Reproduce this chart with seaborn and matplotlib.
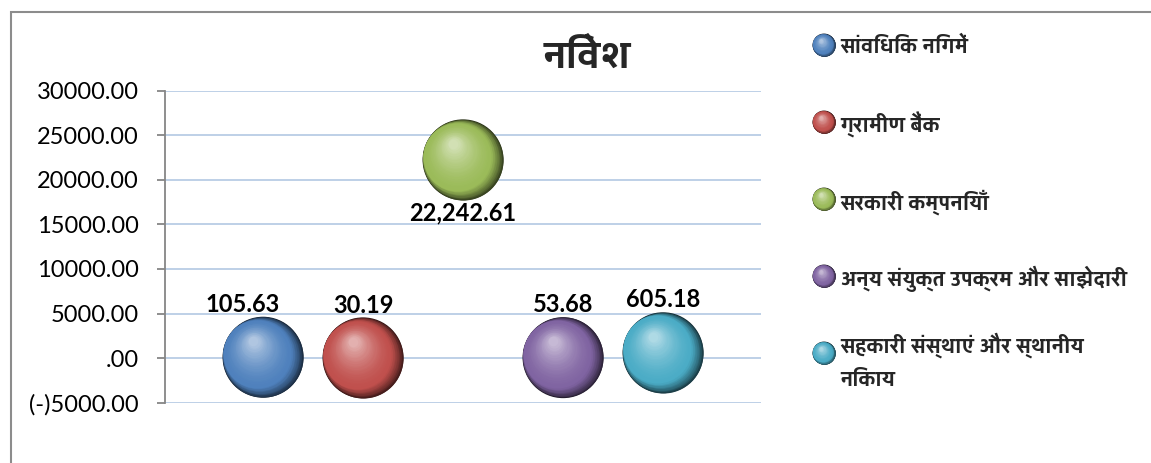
import numpy as np
import matplotlib
matplotlib.use("Agg")
import matplotlib.pyplot as plt
import matplotlib.colors as mcolors
from matplotlib import font_manager
from matplotlib.ft2font import FT2Font
from matplotlib.patches import Rectangle
from matplotlib.transforms import offset_copy
import seaborn as sns

# ── data ─────────────────────────────────────────────────────────────────────
TITLE = "निवेश"
categories = [
    "सांविधिक निगमें",
    "ग्रामीण बैंक",
    "सरकारी कम्पनियाँ",
    "अन्य संयुक्त उपक्रम और साझेदारी",
    "सहकारी संस्थाएं और स्थानीय\nनिकाय",
]
x_pos = [1, 2, 3, 4, 5]
values = [105.63, 30.19, 22242.61, 53.68, 605.18]
colors = ["#4F81BD", "#C0504D", "#9BBB59", "#8064A2", "#4BACC6"]
ytick_values = [-5000, 0, 5000, 10000, 15000, 20000, 25000, 30000]
ytick_labels = ["(-)5000.00", ".00", "5000.00", "10000.00", "15000.00",
                "20000.00", "25000.00", "30000.00"]


def _find_font(ch="\u0928"):
    """first installed family that has a Devanagari glyph, else None"""
    best = None
    for f in font_manager.fontManager.ttflist:
        try:
            cmap = FT2Font(f.fname).get_charmap()
        except Exception:
            continue
        if ord(ch) in cmap:
            if f.weight in ("bold", 700) or best is None:
                best = f.name
    return best


DEV = _find_font()
DEV_FAMILY = [DEV, "DejaVu Sans"] if DEV else ["DejaVu Sans"]

sns.set_theme(style="white")
plt.rcParams["font.family"] = ["Lato", "DejaVu Sans"]


def _mix(c, other, w):
    a = np.array(mcolors.to_rgb(c))
    b = np.array(mcolors.to_rgb(other))
    return tuple(a * (1 - w) + b * w)


def _shade(ax, x, y, base, diam, z):
    """layered discs -> glossy sphere (dark right rim, soft highlight up-left)"""
    dark = _mix(base, "black", 0.75)
    light = _mix(base, "white", 0.55)
    dir_a = np.array([-0.85, 0.5])
    dir_a = dir_a / np.linalg.norm(dir_a)
    hl = np.array([-0.12, 0.2]) * diam
    layers = []
    na = 14
    for i in range(1, na + 1):
        t = i / na
        size = diam * (1 - 0.16 * t)
        off = (diam - size) / 2 * dir_a
        layers.append((size, off, _mix(dark, base, t ** 0.7)))
    start_size, start_off = layers[-1][0], layers[-1][1]
    nb = 22
    for i in range(1, nb + 1):
        t = i / nb
        size = start_size * (1 - t) + diam * 0.12 * t
        off = start_off * (1 - t) + hl * t
        layers.append((size, off, _mix(base, light, t ** 1.6)))
    for k, (size, off, c) in enumerate(layers):
        tr = offset_copy(ax.transData, fig=ax.figure, x=off[0], y=off[1], units="points")
        ax.scatter([x], [y], s=size ** 2, color=c, lw=0, transform=tr,
                   zorder=z + (k + 1) * 0.01, clip_on=False)


fig = plt.figure(figsize=(11.51, 4.63), dpi=100)
ax = fig.add_axes([0.1434, 0.1302, 0.5178, 0.6739])

DIAM = 58.3  # points
dark_cols = [_mix(c, "black", 0.75) for c in colors]
sns.scatterplot(x=x_pos, y=values, hue=categories, palette=dark_cols, s=DIAM ** 2,
                linewidth=0, legend=False, ax=ax, zorder=3, clip_on=False)
for xi, yi, c in zip(x_pos, values, colors):
    _shade(ax, xi, yi, c, DIAM, 3)

# data labels (green one sits below its bubble)
for i, (xi, yi) in enumerate(zip(x_pos, values)):
    below = yi == max(values)
    dx = -15 if i == 0 else 0
    ax.annotate(f"{yi:,.2f}", (xi, yi), xytext=(dx, -38 if below else 38),
                textcoords="offset points", ha="center", va="center",
                fontsize=17, fontweight="bold", color="black", zorder=10,
                annotation_clip=False)

ax.set_xlim(min(x_pos) - 0.98, max(x_pos) + 0.98)
ax.set_ylim(min(ytick_values), max(ytick_values))
ax.set_yticks(ytick_values)
ax.set_yticklabels(ytick_labels)
ax.set_xticks([])
ax.yaxis.grid(True, color="#B9CDE5", lw=1.3)
ax.set_axisbelow(True)
for s in ("top", "right", "bottom"):
    ax.spines[s].set_visible(False)
ax.spines["left"].set_color("#868686")
ax.spines["left"].set_linewidth(1.3)
ax.tick_params(axis="y", left=True, length=6, width=1.3, color="#868686",
               pad=13, labelsize=17, labelcolor="black")

fig.text(0.51, 0.875, TITLE, ha="center", va="center", fontsize=29,
         fontweight="bold", family=DEV_FAMILY)

# legend drawn in its own axes: one row per category
lax = fig.add_axes([824 / 1151, 1 - 353 / 463, 0.28, (353 - 45) / 463])
lax.set_axis_off()
rows = list(range(len(categories)))
sns.scatterplot(x=[0] * len(rows), y=rows, hue=categories, palette=dark_cols, s=16.5 ** 2,
                linewidth=0, legend=False, ax=lax, clip_on=False)
for r, c in zip(rows, colors):
    _shade(lax, 0, r, c, 16.5, 3)
lax.set_xlim(0, 1)
lax.set_ylim(len(rows) - 1, 0)
for r, lab in zip(rows, categories):
    lax.annotate(lab, (0, r), xytext=(12, 0), textcoords="offset points",
                 ha="left", va="center_baseline", fontsize=15.5, fontweight="bold",
                 family=DEV_FAMILY, linespacing=1.75, annotation_clip=False)

fig.add_artist(Rectangle((11 / 1151, -0.1), 1.2, 1.1 - 12 / 463, transform=fig.transFigure,
                         fill=False, edgecolor="#8c8c8c", lw=1.5, clip_on=False))

fig.savefig("out.png", dpi=100)
